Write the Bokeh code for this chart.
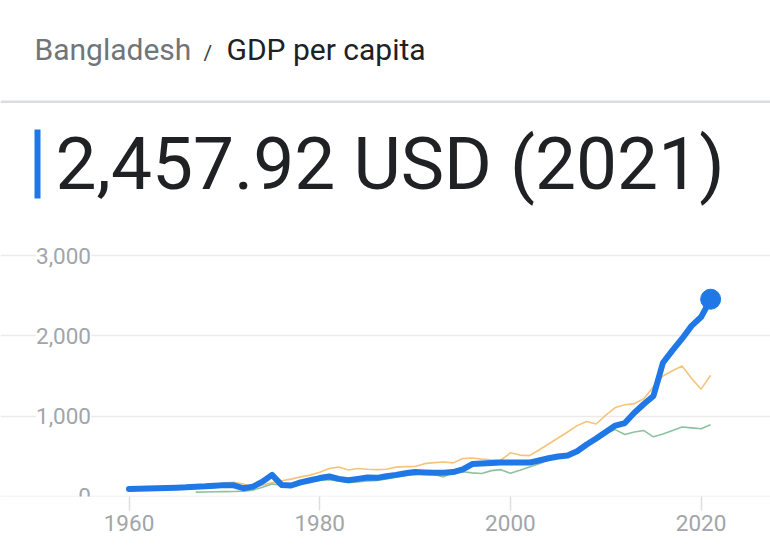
from bokeh.plotting import figure
from bokeh.models import (Range1d, FixedTicker, Label, LabelSet,
                          BoxAnnotation, ColumnDataSource)
from bokeh.core.properties import value
from bokeh.embed import file_html
from bokeh.resources import INLINE

# ---------------- data ----------------
years = list(range(1960, 2022))
bangladesh = [89, 93, 96, 97, 100, 105, 110, 118, 122, 130,
              137, 135, 98, 118, 180, 265, 140, 132, 172, 198,
              225, 245, 215, 198, 215, 232, 228, 248, 265, 285,
              302, 296, 290, 292, 300, 335, 400, 408, 413, 418,
              420, 418, 418, 445, 472, 495, 508, 560, 645, 720,
              800, 880, 912, 1040, 1150, 1250, 1665, 1820, 1965, 2125,
              2235, 2457.92]
pakistan = [85, 90, 95, 102, 110, 118, 125, 132, 138, 148,
            165, 172, 150, 108, 135, 168, 192, 212, 240, 262,
            298, 345, 362, 325, 345, 335, 330, 335, 362, 368,
            370, 405, 418, 425, 415, 470, 475, 462, 452, 448,
            540, 512, 505, 575, 650, 725, 800, 880, 932, 900,
            1010, 1105, 1140, 1155, 1215, 1365, 1500, 1565, 1625, 1470,
            1335, 1508]
green_years = list(range(1967, 2022))
green_vals = [50, 52, 54,
              56, 58, 62, 75, 110, 150, 140, 150, 165, 180,
              195, 205, 190, 170, 178, 190, 195, 215, 235, 255,
              270, 275, 270, 240, 298, 305, 290, 282, 318, 330,
              285, 322, 362, 405, 455, 485, 505, 555, 625, 695,
              780, 830, 770, 800, 818, 740, 775, 818, 862, 852,
              840, 890]
x_ticks = [1960, 1980, 2000, 2020]
y_ticks = [0, 1000, 2000, 3000]
y_tick_labels = ["0", "1,000", "2,000", "3,000"]

crumb_country = "Bangladesh"
crumb_sep = "/"
crumb_metric = "GDP per capita"
headline = "2,457.92 USD (2021)"

# ---------------- layout ----------------
W, H = 770, 548
BOTTOM = 52
FRAME_H = H - BOTTOM          # frame bottom at canvas y = FRAME_H
PX_PER_YEAR = 9.535
PX_PER_USD = 0.0801
X_1960 = 128.5                # canvas x of 1960
Y_ZERO = 495.6                # canvas y of the 0 line

x_start = 1960 - X_1960 / PX_PER_YEAR
x_end = x_start + W / PX_PER_YEAR
y_start = -(FRAME_H - Y_ZERO) / PX_PER_USD
y_end = y_start + FRAME_H / PX_PER_USD


def sy(canvas_y):
    # screen units of annotations are measured up from the frame bottom
    return FRAME_H - canvas_y


def mid(baseline, size):
    # annotation text is anchored at its middle
    return sy(baseline - 0.34 * size)


BLUE = "#1f78e6"
ORANGE = "#f6c37a"
GREEN = "#8cc2a0"
LABEL_GRAY = "#a2a5a9"
FONT = "Roboto"
TICK_SIZE = "22.5px"

p = figure(width=W, height=H, output_backend="svg", toolbar_location=None,
           x_range=Range1d(x_start, x_end), y_range=Range1d(y_start, y_end),
           y_axis_location=None, min_border_left=0, min_border_right=0,
           min_border_top=0, min_border_bottom=BOTTOM)
p.outline_line_color = None
p.background_fill_color = "white"
p.border_fill_color = "white"
p.xgrid.visible = False
p.ygrid.ticker = FixedTicker(ticks=y_ticks)
p.ygrid.grid_line_color = "#ebebeb"
p.ygrid.grid_line_width = 1.5

ax = p.xaxis[0]
ax.ticker = FixedTicker(ticks=x_ticks)
ax.axis_line_color = None
ax.major_tick_in = 0
ax.major_tick_out = 14
ax.major_tick_line_color = "#dedede"
ax.major_tick_line_width = 1.5
ax.minor_tick_line_color = None
ax.major_label_text_font = FONT
ax.major_label_text_font_size = TICK_SIZE
ax.major_label_text_color = LABEL_GRAY
ax.major_label_standoff = 4

# lines
p.line(years, pakistan, line_color=ORANGE, line_width=1.6)
p.line(green_years, green_vals, line_color=GREEN, line_width=1.6)
p.line(years, bangladesh, line_color=BLUE, line_width=6,
       line_join="round", line_cap="round")
p.scatter([years[-1]], [bangladesh[-1]], size=20, color=BLUE)

# y tick labels over the grid
ysrc = ColumnDataSource(dict(x=[x_start] * len(y_ticks), y=y_ticks, text=y_tick_labels))
ls_kwargs = {}
if "padding" in LabelSet.properties():
    ls_kwargs["padding"] = 4
p.add_layout(LabelSet(x="x", y="y", text="text", source=ysrc, x_offset=90.5,
                      text_align="right", text_baseline="middle",
                      text_font=value(FONT), text_font_size=value(TICK_SIZE),
                      text_color=LABEL_GRAY, background_fill_color="white",
                      **ls_kwargs))

# header
p.add_layout(Label(x=34, y=mid(59, 30), x_units="screen", y_units="screen",
                   text=crumb_country, text_font=FONT, text_font_size="30px",
                   text_color="#70757a", text_baseline="middle"))
p.add_layout(Label(x=203, y=mid(60, 21), x_units="screen", y_units="screen",
                   text=crumb_sep, text_font=FONT, text_font_size="21px",
                   text_color="#3c4043", text_baseline="middle"))
p.add_layout(Label(x=226, y=mid(59, 30), x_units="screen", y_units="screen",
                   text=crumb_metric, text_font=FONT, text_font_size="30px",
                   text_color="#202124", text_baseline="middle"))
p.add_layout(BoxAnnotation(left=0, right=W, left_units="screen", right_units="screen",
                           top=sy(100), bottom=sy(102.5), top_units="screen",
                           bottom_units="screen", fill_color="#dadce0",
                           fill_alpha=1, line_color=None))
p.add_layout(BoxAnnotation(left=34, right=40, left_units="screen",
                           right_units="screen", top=sy(129), bottom=sy(198),
                           top_units="screen", bottom_units="screen",
                           fill_color=BLUE, fill_alpha=1, line_color=None))
p.add_layout(Label(x=55, y=mid(188, 73), x_units="screen", y_units="screen",
                   text=headline, text_font=FONT, text_font_size="73px",
                   text_color="#202124", text_baseline="middle"))

open("out.html", "w").write(file_html(p, INLINE))
